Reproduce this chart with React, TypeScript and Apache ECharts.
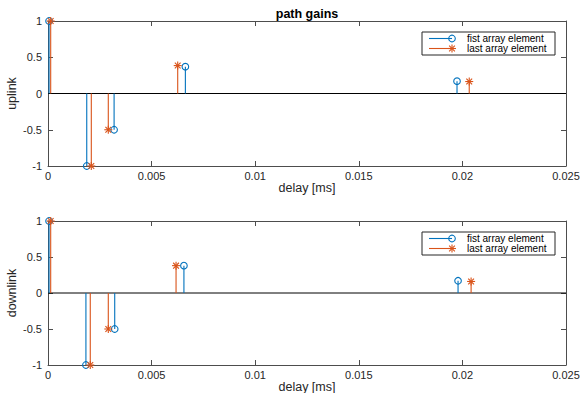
import React, { useEffect, useRef } from "react";
import * as echarts from "echarts";

const ulFirstDelay = [0.00005, 0.00187, 0.00319, 0.00663, 0.01974];
const ulFirstGain = [1, -1, -0.5, 0.37, 0.17];
const ulLastDelay = [0.00013, 0.00209, 0.00291, 0.00626, 0.02033];
const ulLastGain = [1, -1, -0.5, 0.385, 0.165];
const dlFirstDelay = [0.00005, 0.00183, 0.00322, 0.00656, 0.01979];
const dlFirstGain = [1, -1, -0.5, 0.38, 0.17];
const dlLastDelay = [0.00013, 0.00204, 0.00291, 0.00618, 0.02042];
const dlLastGain = [1, -1, -0.5, 0.38, 0.16];

const xTicks = [0, 0.005, 0.01, 0.015, 0.02, 0.025];
const yTicks = [-1, -0.5, 0, 0.5, 1];
const seriesNames = ["fist array element", "last array element"];
const panelNames = ["uplink", "downlink"];

const BLUE = "#0072BD";
const ORANGE = "#D95319";
const AXIS = "#4d4d4d";
const TXT = "#262626";
const FONT = "Liberation Sans, Arial, Helvetica, sans-serif";

function zip(xs: number[], ys: number[]) {
  return xs.map((x, i) => [x, ys[i]]);
}

function markerShapes(kind: string, cx: number, cy: number, color: string) {
  if (kind === "circle") {
    return [
      { type: "circle", shape: { cx, cy, r: 3.3 }, style: { fill: "none", stroke: color, lineWidth: 1.1 } },
    ];
  }
  const r = 4;
  const d = r * 0.72;
  const segs = [
    [cx - r, cy, cx + r, cy],
    [cx, cy - r, cx, cy + r],
    [cx - d, cy - d, cx + d, cy + d],
    [cx - d, cy + d, cx + d, cy - d],
  ];
  return segs.map((s) => ({
    type: "line",
    shape: { x1: s[0], y1: s[1], x2: s[2], y2: s[3] },
    style: { stroke: color, lineWidth: 1.1 },
  }));
}

function stemSeries(name: string, data: number[][], idx: number, color: string, kind: string) {
  return {
    type: "custom",
    name,
    xAxisIndex: idx,
    yAxisIndex: idx,
    data,
    clip: false,
    renderItem: (params: any, api: any) => {
      const x = api.value(0);
      const y = api.value(1);
      const p = api.coord([x, y]);
      const b = api.coord([x, 0]);
      return {
        type: "group",
        children: [
          { type: "line", shape: { x1: b[0], y1: b[1], x2: p[0], y2: p[1] }, style: { stroke: color, lineWidth: 1.1 } },
          ...markerShapes(kind, p[0], p[1], color),
        ],
      };
    },
    z: 5,
  };
}

function legendGraphic(top: number) {
  const left = 422;
  const w = 133;
  const h = 23;
  const rows = [
    { y: top + 6.5, color: BLUE, kind: "circle", text: seriesNames[0] },
    { y: top + 16.5, color: ORANGE, kind: "star", text: seriesNames[1] },
  ];
  const children: any[] = [
    { type: "rect", shape: { x: left, y: top, width: w, height: h }, style: { fill: "#fff", stroke: "#262626", lineWidth: 1 } },
  ];
  rows.forEach((r) => {
    children.push({ type: "line", shape: { x1: left + 7, y1: r.y, x2: left + 30, y2: r.y }, style: { stroke: r.color, lineWidth: 1.1 } });
    markerShapes(r.kind, left + 30, r.y, r.color).forEach((m) => children.push(m));
    children.push({
      type: "text",
      style: { x: left + 45, y: r.y, text: r.text, fill: "#000", font: `10px ${FONT}`, verticalAlign: "middle", align: "left" },
    });
  });
  return { type: "group", children, z: 20 };
}

export default function App() {
  const ref = useRef<HTMLDivElement>(null);
  useEffect(() => {
    if (!ref.current) return;
    const chart = echarts.init(ref.current, null, { renderer: "svg" });
    const grids = [
      { left: 48, top: 21, width: 518, height: 145, outerBoundsMode: "none", containLabel: false },
      { left: 48, top: 221, width: 518, height: 144, outerBoundsMode: "none", containLabel: false },
    ];
    const xAxes: any[] = [];
    const yAxes: any[] = [];
    grids.forEach((g, i) => {
      xAxes.push({
        type: "value",
        gridIndex: i,
        min: xTicks[0],
        max: xTicks[xTicks.length - 1],
        interval: xTicks[1] - xTicks[0],
        name: "delay [ms]",
        nameLocation: "middle",
        nameGap: 15,
        nameMoveOverlap: false,
        nameTextStyle: { color: TXT, fontSize: 12.5, fontFamily: FONT },
        axisLine: { show: true, onZero: false, lineStyle: { color: AXIS, width: 1 } },
        axisTick: { show: true, inside: true, length: 5, lineStyle: { color: AXIS } },
        axisLabel: { color: TXT, fontSize: 11, fontFamily: FONT, margin: 4 },
        splitLine: { show: false },
      });
      xAxes.push({
        type: "value",
        gridIndex: i,
        position: "top",
        min: xTicks[0],
        max: xTicks[xTicks.length - 1],
        interval: xTicks[1] - xTicks[0],
        axisLine: { show: true, onZero: false, lineStyle: { color: AXIS, width: 1 } },
        axisTick: { show: true, inside: true, length: 5, lineStyle: { color: AXIS } },
        axisLabel: { show: false },
        splitLine: { show: false },
      });
      yAxes.push({
        type: "value",
        gridIndex: i,
        min: yTicks[0],
        max: yTicks[yTicks.length - 1],
        interval: 0.5,
        name: panelNames[i],
        nameLocation: "middle",
        nameGap: 30,
        nameMoveOverlap: false,
        nameTextStyle: { color: TXT, fontSize: 12.5, fontFamily: FONT },
        axisLine: { show: true, onZero: false, lineStyle: { color: AXIS, width: 1 } },
        axisTick: { show: true, inside: true, length: 5, lineStyle: { color: AXIS } },
        axisLabel: { color: TXT, fontSize: 11, fontFamily: FONT, margin: 6 },
        splitLine: { show: false },
      });
      yAxes.push({
        type: "value",
        gridIndex: i,
        position: "right",
        min: yTicks[0],
        max: yTicks[yTicks.length - 1],
        interval: 0.5,
        axisLine: { show: true, onZero: false, lineStyle: { color: AXIS, width: 1 } },
        axisTick: { show: true, inside: true, length: 5, lineStyle: { color: AXIS } },
        axisLabel: { show: false },
        splitLine: { show: false },
      });
    });
    const baseline = (axisIdx: number) => ({
      type: "line",
      xAxisIndex: axisIdx,
      yAxisIndex: axisIdx,
      data: [
        [xTicks[0], 0],
        [xTicks[xTicks.length - 1], 0],
      ],
      symbol: "none",
      lineStyle: { color: "#000", width: 1 },
      z: 3,
    });
    chart.setOption({
      animation: false,
      backgroundColor: "#fff",
      title: {
        text: "path gains",
        left: 307,
        top: 7,
        padding: 0,
        textAlign: "center",
        textStyle: { fontSize: 12.5, fontWeight: "bold", color: "#000", fontFamily: FONT },
      },
      grid: grids,
      xAxis: xAxes,
      yAxis: yAxes,
      series: [
        baseline(0),
        baseline(2),
        stemSeries(seriesNames[0], zip(ulFirstDelay, ulFirstGain), 0, BLUE, "circle"),
        stemSeries(seriesNames[1], zip(ulLastDelay, ulLastGain), 0, ORANGE, "star"),
        stemSeries(seriesNames[0], zip(dlFirstDelay, dlFirstGain), 2, BLUE, "circle"),
        stemSeries(seriesNames[1], zip(dlLastDelay, dlLastGain), 2, ORANGE, "star"),
      ],
      graphic: [legendGraphic(32), legendGraphic(232)],
    });
    return () => chart.dispose();
  }, []);
  return (
    <div
      ref={ref}
      style={{ position: "fixed", left: 0, top: 0, width: 583, height: 393, background: "#fff" }}
    />
  );
}
